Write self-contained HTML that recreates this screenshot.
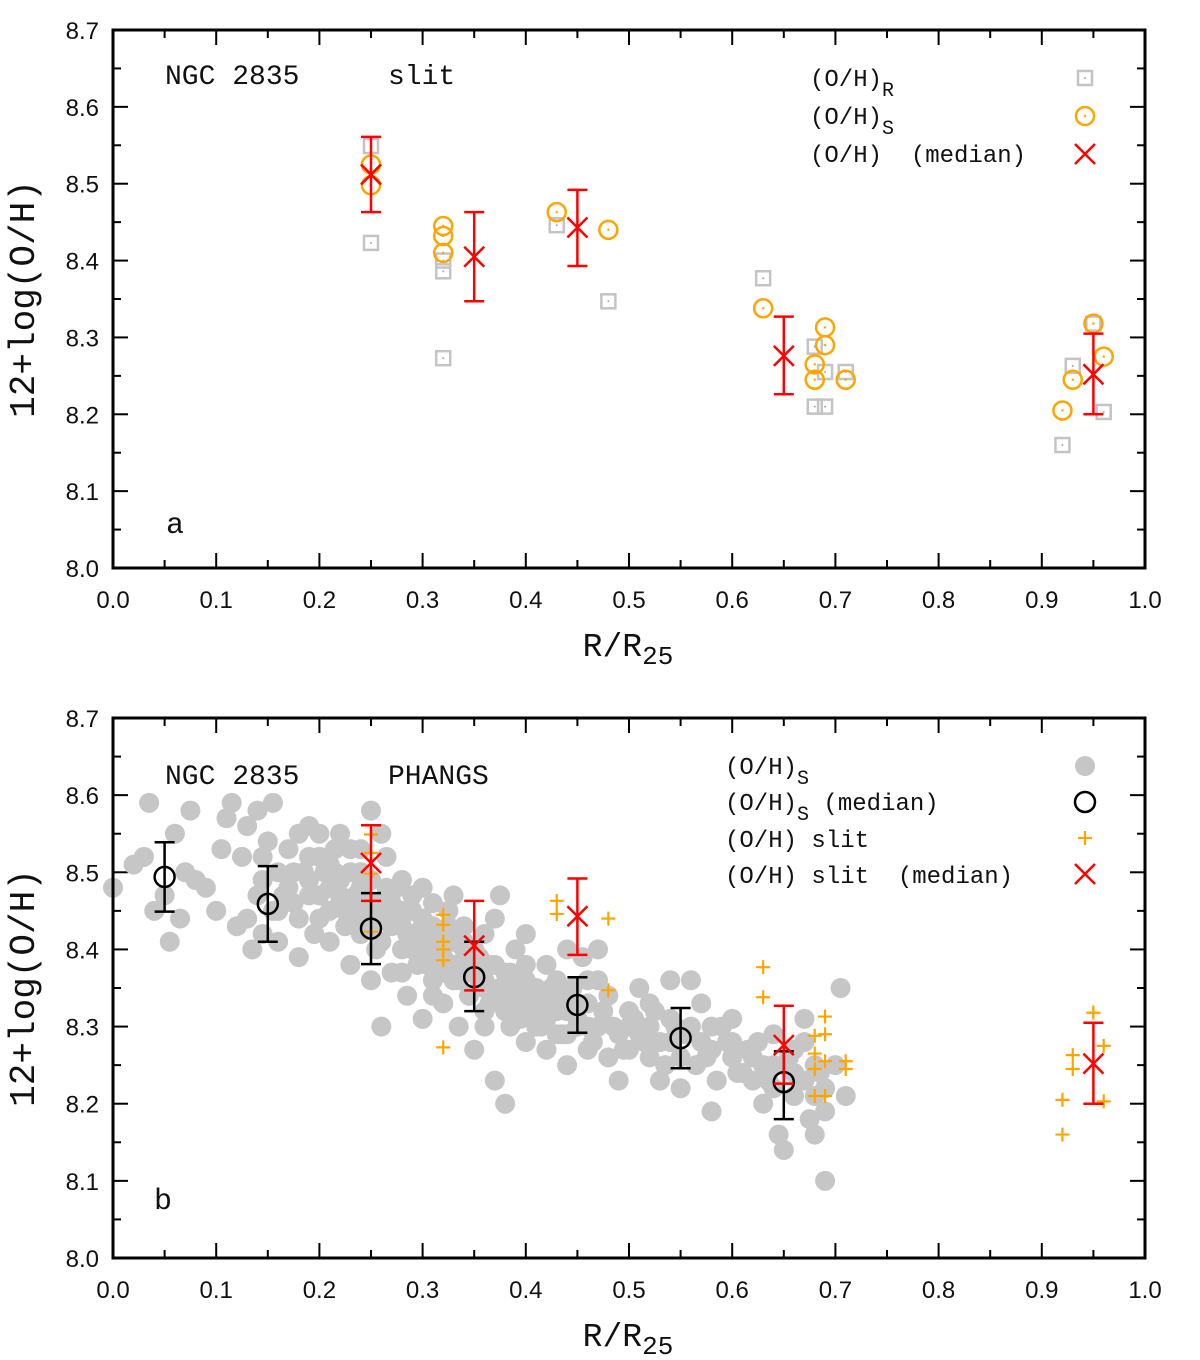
<!DOCTYPE html>
<html><head><meta charset="utf-8"><style>
html,body{margin:0;padding:0;background:#fff;}
svg{display:block;}
.tk{font-family:"Liberation Sans",sans-serif;font-size:24px;fill:#111;}
.mono{font-family:"Liberation Mono",monospace;fill:#111;}
</style></head><body>
<svg id="chart" width="1200" height="1360" viewBox="0 0 1200 1360" xmlns="http://www.w3.org/2000/svg"></svg>
<script>
// ---- data ----
const rX = [0.25,0.25,0.32,0.32,0.32,0.43,0.48,0.63,0.68,0.68,0.69,0.69,0.71,0.92,0.93,0.95,0.96];
const rY = [8.549,8.423,8.386,8.400,8.273,8.446,8.347,8.377,8.288,8.210,8.255,8.210,8.255,8.160,8.263,8.318,8.203];
const sX = [0.25,0.25,0.32,0.32,0.32,0.43,0.48,0.63,0.68,0.68,0.69,0.69,0.71,0.92,0.93,0.95,0.96];
const sY = [8.525,8.498,8.445,8.432,8.410,8.463,8.440,8.338,8.265,8.245,8.313,8.290,8.245,8.205,8.245,8.318,8.275];
const medSlitX = [0.25,0.35,0.45,0.65,0.95];
const medSlitY = [8.512,8.405,8.443,8.276,8.252];
const medSlitLo = [8.463,8.347,8.393,8.226,8.200];
const medSlitHi = [8.561,8.463,8.492,8.327,8.305];
const medPhX = [0.05,0.15,0.25,0.35,0.45,0.55,0.65];
const medPhY = [8.494,8.459,8.427,8.364,8.328,8.285,8.228];
const medPhLo = [8.449,8.410,8.381,8.320,8.292,8.246,8.180];
const medPhHi = [8.539,8.508,8.473,8.410,8.364,8.324,8.268];
const phX = [0.0,0.02,0.03,0.035,0.04,0.05,0.055,0.06,0.065,0.07,0.075,0.08,0.09,0.1,0.105,0.11,0.115,0.12,0.125,0.13,0.135,0.14,0.145,0.15,0.155,0.16,0.16,0.17,0.175,0.18,0.18,0.19,0.19,0.2,0.2,0.205,0.21,0.21,0.215,0.22,0.22,0.225,0.23,0.23,0.235,0.24,0.24,0.245,0.25,0.25,0.255,0.26,0.26,0.265,0.27,0.27,0.275,0.28,0.28,0.285,0.29,0.29,0.295,0.30,0.30,0.305,0.31,0.31,0.315,0.32,0.32,0.325,0.33,0.33,0.335,0.34,0.34,0.345,0.35,0.35,0.355,0.36,0.36,0.365,0.37,0.37,0.375,0.38,0.38,0.385,0.39,0.39,0.395,0.40,0.40,0.405,0.41,0.415,0.42,0.42,0.425,0.43,0.435,0.44,0.44,0.445,0.45,0.455,0.46,0.46,0.47,0.47,0.48,0.48,0.49,0.49,0.5,0.5,0.51,0.51,0.52,0.52,0.53,0.53,0.54,0.54,0.55,0.55,0.56,0.56,0.565,0.57,0.57,0.58,0.58,0.585,0.59,0.6,0.6,0.61,0.62,0.625,0.63,0.63,0.64,0.64,0.645,0.65,0.65,0.66,0.66,0.67,0.67,0.675,0.68,0.68,0.69,0.69,0.69,0.70,0.705,0.71,
0.16,0.17,0.18,0.185,0.195,0.2,0.21,0.22,0.225,0.23,0.24,0.25,0.26,0.27,0.28,0.29,0.3,0.31,0.32,0.33,0.34,0.35,0.36,0.37,0.38,0.39,0.4,0.41,0.42,0.43,0.44,0.45,0.46,0.5,0.52,0.54,0.58,0.6,0.62,0.64,0.66,0.68,0.67,0.23,0.19,0.26,0.3,0.33,0.14,0.13,0.145,0.25,0.37,0.4,0.44,0.47,0.31,0.28,0.36,
0.165,0.175,0.19,0.2,0.21,0.215,0.22,0.235,0.24,0.25,0.255,0.265,0.27,0.285,0.29,0.3,0.305,0.315,0.32,0.325,0.335,0.34,0.345,0.355,0.36,0.365,0.375,0.38,0.385,0.395,0.4,0.41,0.415,0.425,0.43,0.44,0.45,0.46,0.465,0.475,0.485,0.495,0.505,0.515,0.525,0.535,0.545,0.555,0.575,0.595,0.605,0.615,0.635,0.655,0.665,0.685,0.155,0.145,0.2,0.24,0.28];
const phY = [8.48,8.51,8.52,8.59,8.45,8.47,8.41,8.55,8.44,8.50,8.58,8.49,8.48,8.45,8.53,8.57,8.59,8.43,8.52,8.56,8.40,8.58,8.49,8.54,8.59,8.50,8.41,8.53,8.46,8.55,8.39,8.47,8.52,8.44,8.55,8.50,8.48,8.41,8.53,8.46,8.55,8.43,8.50,8.38,8.47,8.53,8.42,8.45,8.49,8.36,8.40,8.46,8.30,8.52,8.43,8.37,8.48,8.40,8.45,8.34,8.42,8.47,8.38,8.44,8.31,8.40,8.36,8.46,8.42,8.33,8.39,8.45,8.36,8.41,8.30,8.38,8.43,8.34,8.40,8.27,8.36,8.32,8.42,8.38,8.23,8.34,8.47,8.20,8.37,8.30,8.40,8.33,8.36,8.28,8.38,8.32,8.35,8.30,8.38,8.27,8.33,8.36,8.29,8.25,8.32,8.35,8.30,8.39,8.27,8.33,8.30,8.40,8.34,8.26,8.29,8.23,8.32,8.27,8.29,8.35,8.26,8.30,8.28,8.23,8.36,8.31,8.26,8.22,8.30,8.36,8.25,8.28,8.33,8.19,8.27,8.23,8.30,8.26,8.31,8.24,8.23,8.28,8.20,8.25,8.29,8.22,8.16,8.25,8.14,8.27,8.21,8.23,8.31,8.18,8.25,8.16,8.22,8.19,8.10,8.25,8.35,8.21,
8.45,8.48,8.44,8.50,8.42,8.47,8.51,8.49,8.45,8.46,8.48,8.43,8.41,8.46,8.43,8.40,8.41,8.43,8.42,8.38,8.41,8.37,8.35,8.38,8.34,8.35,8.34,8.32,8.31,8.32,8.29,8.33,8.30,8.30,8.33,8.28,8.30,8.28,8.26,8.25,8.24,8.21,8.28,8.53,8.56,8.55,8.48,8.47,8.47,8.44,8.42,8.58,8.44,8.42,8.40,8.36,8.34,8.37,8.30,
8.47,8.50,8.49,8.52,8.45,8.50,8.47,8.44,8.50,8.46,8.44,8.48,8.45,8.42,8.45,8.43,8.38,8.40,8.37,8.43,8.36,8.40,8.37,8.39,8.36,8.33,8.35,8.32,8.37,8.31,8.36,8.30,8.34,8.35,8.29,8.34,8.31,8.36,8.28,8.32,8.30,8.27,8.31,8.28,8.32,8.25,8.30,8.29,8.26,8.28,8.24,8.27,8.23,8.26,8.23,8.24,8.45,8.52,8.52,8.50,8.49];
const xTicks = ["0.0","0.1","0.2","0.3","0.4","0.5","0.6","0.7","0.8","0.9","1.0"];
const yTicks = ["8.0","8.1","8.2","8.3","8.4","8.5","8.6","8.7"];

const NS="http://www.w3.org/2000/svg";
const svg=document.getElementById('chart');
function mk(tag,attrs,parent){const e=document.createElementNS(NS,tag);for(const k in attrs)e.setAttribute(k,attrs[k]);(parent||svg).appendChild(e);return e;}
const L=113,R=1145;
function sx(v){return L+v*(R-L);}
function makeSy(top,bot){return v=>bot-(v-8.0)/0.7*(bot-top);}

function frame(top,bot,name){
  const g=mk('g',{});
  
  
  const sy=makeSy(top,bot);
  for(let i=0;i<=20;i++){const x=sx(i*0.05);const len=i%2?8:15;
    mk('line',{x1:x,y1:bot,x2:x,y2:bot-len,stroke:'#000','stroke-width':2},g);
    mk('line',{x1:x,y1:top,x2:x,y2:top+len,stroke:'#000','stroke-width':2},g);}
  for(let i=0;i<=14;i++){const y=sy(8+i*0.05);const len=i%2?8:15;
    mk('line',{x1:L,y1:y,x2:L+len,y2:y,stroke:'#000','stroke-width':2},g);
    mk('line',{x1:R,y1:y,x2:R-len,y2:y,stroke:'#000','stroke-width':2},g);}
  xTicks.forEach((t,i)=>{const e=mk('text',{x:sx(i*0.1),y:bot+40,'text-anchor':'middle',class:'tk'},g);e.textContent=t;
    });
  yTicks.forEach((t,i)=>{const e=mk('text',{x:L-14,y:sy(8+i*0.1)+9,'text-anchor':'end',class:'tk'},g);e.textContent=t;
    });
  const xl=mk('text',{x:628,y:bot+88,'text-anchor':'middle',class:'mono','font-size':33},g);
  xl.innerHTML='R/R<tspan font-size="26" dy="8">25</tspan>';
  
  const yl=mk('text',{x:0,y:0,'text-anchor':'middle',class:'mono','font-size':36,transform:`translate(34,${(top+bot)/2}) rotate(-90)`},g);
  yl.textContent='12+log(O/H)';
  
  return sy;
}
function square(x,y,g){mk('rect',{x:x-7,y:y-7,width:14,height:14,fill:'none',stroke:'#c4c4c4','stroke-width':2.5},g);mk('circle',{cx:x,cy:y,r:1,fill:'#aaa'},g);}
function ocirc(x,y,g){mk('circle',{cx:x,cy:y,r:9,fill:'none',stroke:'#ffa500','stroke-width':2.5},g);mk('circle',{cx:x,cy:y,r:1.2,fill:'#ffa500'},g);}
function xmark(x,y,g,c){mk('path',{d:`M${x-10} ${y-10}L${x+10} ${y+10}M${x-10} ${y+10}L${x+10} ${y-10}`,stroke:c,'stroke-width':2.5},g);}
function plus(x,y,g){mk('path',{d:`M${x-7} ${y}L${x+7} ${y}M${x} ${y-7}L${x} ${y+7}`,stroke:'#ffa500','stroke-width':2.2},g);}
function ebar(x,ylo,yhi,g,c){mk('path',{d:`M${x} ${ylo}L${x} ${yhi}M${x-10} ${ylo}L${x+10} ${ylo}M${x-10} ${yhi}L${x+10} ${yhi}`,stroke:c,'stroke-width':2.5,fill:'none'},g);}
function txt(x,y,s,size,name){const e=mk('text',{x:x,y:y,class:'mono','font-size':size,'xml:space':'preserve'});e.setAttribute('style','white-space:pre');e.innerHTML=s;return e;}

// ---- panel a ----
const ta=30,ba=568;
const sya=frame(ta,ba,'panel-a');
const ga=mk('g',{});
rX.forEach((x,i)=>square(sx(x),sya(rY[i]),ga));
sX.forEach((x,i)=>ocirc(sx(x),sya(sY[i]),ga));
medSlitX.forEach((x,i)=>{ebar(sx(x),sya(medSlitLo[i]),sya(medSlitHi[i]),ga,'#f00');xmark(sx(x),sya(medSlitY[i]),ga,'#f00');});
mk('rect',{x:L,y:ta,width:R-L,height:ba-ta,fill:'none',stroke:'#000','stroke-width':3});
txt(165,84,'NGC 2835',28,'panel-a-title');
txt(388,84,'slit',28,'panel-a-subtitle');
txt(166,533,'a',30,'panel-a-label');
txt(810,86,'(O/H)<tspan font-size="20" dy="10">R</tspan>',24,'legend-oh-r');
txt(810,124,'(O/H)<tspan font-size="20" dy="10">S</tspan>',24,'legend-oh-s');
txt(810,162,'(O/H)  (median)',24,'legend-oh-median');
const la=mk('g',{});
square(1085,78,la);ocirc(1085,116,la);xmark(1085,154,la,'#f00');

// ---- panel b ----
const tb=718,bb=1258;
const syb=frame(tb,bb,'panel-b');
const gb=mk('g',{});
phX.forEach((x,i)=>{mk('circle',{cx:sx(x),cy:syb(phY[i]),r:10,fill:'#c6c6c6'},gb);});
rX.forEach((x,i)=>plus(sx(x),syb(rY[i]),gb));
sX.forEach((x,i)=>plus(sx(x),syb(sY[i]),gb));
medPhX.forEach((x,i)=>{ebar(sx(x),syb(medPhLo[i]),syb(medPhHi[i]),gb,'#000');mk('circle',{cx:sx(x),cy:syb(medPhY[i]),r:10,fill:'none',stroke:'#000','stroke-width':2.5},gb);});
medSlitX.forEach((x,i)=>{ebar(sx(x),syb(medSlitLo[i]),syb(medSlitHi[i]),gb,'#f00');xmark(sx(x),syb(medSlitY[i]),gb,'#f00');});
mk('rect',{x:L,y:tb,width:R-L,height:bb-tb,fill:'none',stroke:'#000','stroke-width':3});
txt(165,784,'NGC 2835',28,'panel-b-title');
txt(388,784,'PHANGS',28,'panel-b-subtitle');
txt(154,1209,'b',30,'panel-b-label');
txt(725,774,'(O/H)<tspan font-size="20" dy="10">S</tspan>',24,'legend-ph-s');
txt(725,810,'(O/H)<tspan font-size="20" dy="10">S</tspan><tspan dy="-10"> (median)</tspan>',24,'legend-ph-median');
txt(725,847,'(O/H) slit',24,'legend-slit');
txt(725,883,'(O/H) slit  (median)',24,'legend-slit-median');
const lb=mk('g',{});
mk('circle',{cx:1085,cy:766,r:10,fill:'#c6c6c6'},lb);
mk('circle',{cx:1085,cy:802,r:10,fill:'none',stroke:'#000','stroke-width':2.5},lb);
plus(1085,838,lb);xmark(1085,874,lb,'#f00');
</script>
</body></html>
